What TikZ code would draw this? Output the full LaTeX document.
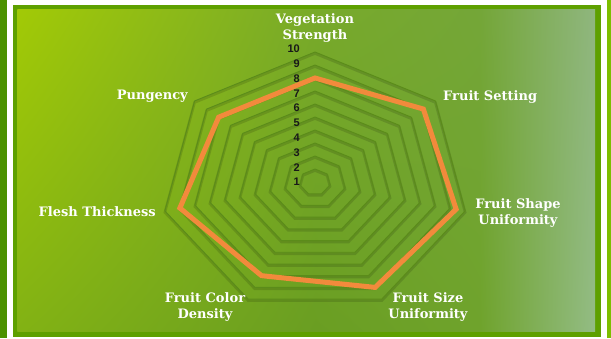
\documentclass[tikz,border=0pt]{standalone}
\usepackage{fontspec}
\setmainfont{DejaVu Serif}
\newfontfamily\numfont{Liberation Sans}
\usepackage{tikz}
\usetikzlibrary{shadings}

\definecolor{bandL}{HTML}{4B9100}
\definecolor{bandR}{HTML}{7CBE00}
\definecolor{frameband}{HTML}{5EA000}
\definecolor{bgTL}{HTML}{A2CA06}
\definecolor{bgBL}{HTML}{82B214}
\definecolor{bgTM}{HTML}{78AA2A}
\definecolor{bgBM}{HTML}{6A9E22}
\definecolor{bgTR}{HTML}{74A638}
\definecolor{bgBR}{HTML}{6FA32C}
\definecolor{bgTE}{HTML}{8FB67E}
\definecolor{bgBE}{HTML}{93BC84}
\definecolor{ringgreen}{HTML}{5B8C1A}
\definecolor{dataorange}{HTML}{F28A3C}

\begin{document}
\begin{tikzpicture}[x=1pt,y=1pt,
    ringline/.style={ringgreen,line width=.9pt},
    ringshadow/.style={black,opacity=.13,line width=2.6pt,yshift=-1.5pt},
    dataline/.style={dataorange,line width=5pt},
    axislabel/.style={text=white,font=\fontsize{13}{16}\selectfont\bfseries,align=center,inner sep=0pt},
    ticklabel/.style={text=black!90,font=\numfont\fontsize{11}{11}\selectfont\bfseries,anchor=east,inner sep=0pt}]
  \useasboundingbox (0,0) rectangle (611,338);
  % frame
  \fill[white] (0,0) rectangle (611,338);
  \fill[bandL] (0,0) rectangle (6.5,338);
  \fill[bandR] (606.5,0) rectangle (611,338);
  \fill[frameband] (12.7,1.3) rectangle (600.7,333);
  % background
  \shade[upper left=bgTL,lower left=bgBL,upper right=bgTM,lower right=bgBM] (17.3,6.3) rectangle (315,328.7);
  \shade[upper left=bgTM,lower left=bgBM,upper right=bgTR,lower right=bgBR] (315,6.3) rectangle (480,328.7);
  \shade[upper left=bgTR,lower left=bgBR,upper right=bgTE,lower right=bgBE] (480,6.3) rectangle (595,328.7);

  \begin{scope}[shift={(315,156)}]
    % rings
    \foreach \k in {1,...,10}{
      \draw[ringshadow] (90:{15.4*\k} and {13*\k})
        \foreach \i in {1,...,6}{ -- ({90-\i*360/7}:{15.4*\k} and {13*\k}) } -- cycle;
      \draw[ringline] (90:{15.4*\k} and {13*\k})
        \foreach \i in {1,...,6}{ -- ({90-\i*360/7}:{15.4*\k} and {13*\k}) } -- cycle;
    }
    % data
    \foreach \v [count=\i] in {8,9,9.4,9,8,9,8}
      \coordinate (d\i) at ({90-(\i-1)*360/7}:{15.4*\v} and {13*\v});
    \draw[dataline] (d1) -- (d2) -- (d3) -- (d4) -- (d5) -- (d6) -- (d7) -- cycle;
    % scale
    \foreach \k in {1,...,10}
      \node[ticklabel] (t\k) at (-15,{(\k-1)*14.78}) {\k};
  \end{scope}

  \node[axislabel] (veg) at (315,309.5) {Vegetation\\Strength};
  \node[axislabel,anchor=west] (setting) at (443,241) {Fruit Setting};
  \node[axislabel] (shape) at (518,125) {Fruit Shape\\Uniformity};
  \node[axislabel] (size) at (428,31) {Fruit Size\\Uniformity};
  \node[axislabel] (color) at (205,31) {Fruit Color\\Density};
  \node[axislabel,anchor=east] (flesh) at (156,126) {Flesh Thickness};
  \node[axislabel,anchor=east] (pungency) at (188,242) {Pungency};
\end{tikzpicture}
\end{document}
